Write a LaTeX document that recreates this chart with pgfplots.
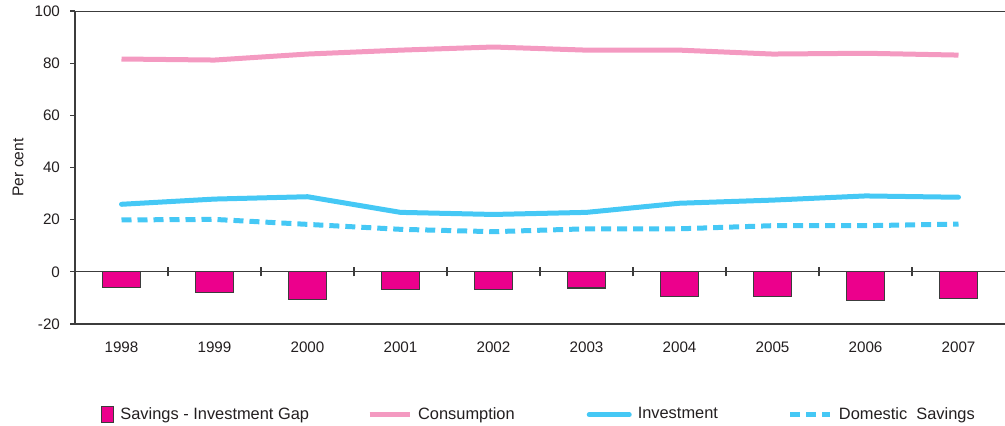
\documentclass[border=0pt]{standalone}
\usepackage{pgfplots}
\pgfplotsset{compat=1.18}
\usepackage{fontspec}
\setmainfont{Liberation Sans}

\definecolor{gapmag}{HTML}{EC008C}
\definecolor{conspink}{HTML}{F49AC1}
\definecolor{invblue}{HTML}{45C8F5}
\definecolor{axgray}{HTML}{3C3C3C}
\definecolor{txt}{HTML}{231F20}

\begin{document}
\begin{tikzpicture}[font=\fontsize{8.2}{10}\selectfont]
\begin{axis}[
    at={(0,0)}, anchor=south west,
    scale only axis, width=465pt, height=156.5pt,
    xmin=-0.5, xmax=9.5, ymin=-20, ymax=100,
    axis x line*=bottom, axis y line*=left,
    axis line style={axgray, line width=0.6pt, -},
    xtick={0,...,9},
    xticklabels={1998,1999,2000,2001,2002,2003,2004,2005,2006,2007},
    xtick style={draw=none},
    ytick={-20,0,20,40,60,80,100},
    ytick style={axgray, line width=0.6pt},
    tick align=outside, major tick length=2.4pt,
    /pgf/number format/assume math mode=true,
    tick label style={txt, font=\fontsize{7.6}{9}\selectfont},
    yticklabel style={xshift=-1.6pt},
    xticklabel style={yshift=-2.8pt},
    ylabel={Per cent},
    ylabel style={at={(axis description cs:-0.0613,0.5)}, anchor=center, txt,
        font=\fontsize{7.8}{9}\selectfont},
    legend style={at={(axis description cs:0.5,-0.29)}, anchor=center,
        draw=none, legend columns=4, text=txt,
        /tikz/every even column/.append style={column sep=0pt},
        /tikz/every odd column/.append style={column sep=0pt}},
    legend image code/.code={\draw[#1] (0pt,0pt) -- (20pt,0pt); \path (21pt,0pt);},
]
\draw[axgray, line width=0.6pt] (rel axis cs:0,1) -- (rel axis cs:1,1);
\draw[axgray, line width=0.6pt] (axis cs:-0.5,0) -- (axis cs:9.5,0);
\pgfplotsinvokeforeach{0.5,1.5,2.5,3.5,4.5,5.5,6.5,7.5,8.5}{
    \draw[axgray, line width=0.6pt] ([yshift=-2.25pt]axis cs:#1,0) -- ([yshift=2.25pt]axis cs:#1,0);
}

\addplot[ybar, bar width=19pt, fill=gapmag, draw=axgray, line width=0.6pt,
    legend image code/.code={\draw[draw=axgray, fill=gapmag, line width=0.6pt] (0pt,-4pt) rectangle (6pt,4pt); \path (7pt,0pt);}]
coordinates {(0,-6.1) (1,-8.0) (2,-10.6) (3,-6.7) (4,-6.7) (5,-6.2) (6,-9.3) (7,-9.4) (8,-11.1) (9,-10.3)};
\addlegendentry{Savings - Investment Gap\kern27pt}

\addplot[conspink, line width=2.5pt, line join=round, no markers]
coordinates {(0,81.6) (1,81.2) (2,83.5) (3,85.0) (4,86.2) (5,85.0) (6,85.0) (7,83.5) (8,83.8) (9,83.1)};
\addlegendentry{Consumption\kern34pt}

\addplot[invblue, line width=2.5pt, line join=round, line cap=round, no markers]
coordinates {(0,25.9) (1,27.9) (2,28.8) (3,22.8) (4,22.0) (5,22.8) (6,26.3) (7,27.5) (8,29.1) (9,28.6)};
\addlegendentry{Investment\kern33pt}

\addplot[invblue, line width=2.5pt, dash pattern=on 5pt off 3pt, no markers]
coordinates {(0,19.9) (1,20.1) (2,18.2) (3,16.3) (4,15.4) (5,16.5) (6,16.5) (7,17.7) (8,17.7) (9,18.3)};
\addlegendentry{Domestic\ \ Savings}
\end{axis}
\pgfresetboundingbox
\useasboundingbox (-37.5pt,-50.5pt) rectangle (465pt,162pt);
\end{tikzpicture}
\end{document}
